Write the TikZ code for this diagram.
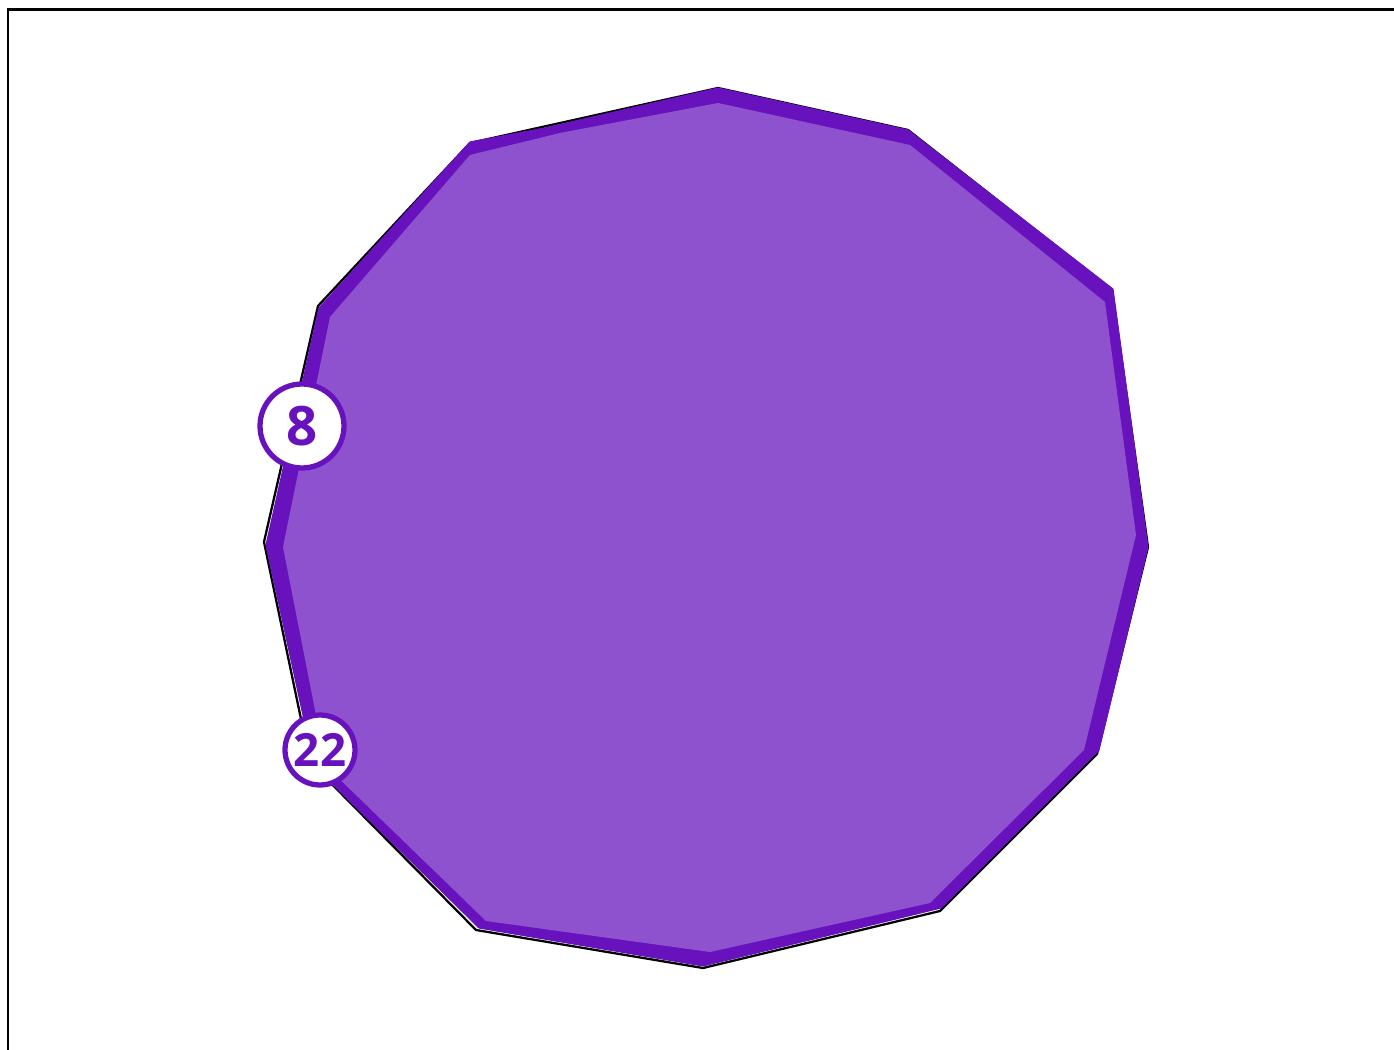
\documentclass[tikz,border=0pt]{standalone}
\usepackage{fontspec}
\setsansfont{Open Sans}
\usepackage{tikz}
\usetikzlibrary{positioning}

\definecolor{rimpurple}{RGB}{104,18,190}
\definecolor{facepurple}{RGB}{142,82,206}

\begin{document}
\begin{tikzpicture}[x=0.02cm, y=-0.02cm,
    frame/.style={draw=black, line width=1.7pt},
    shadowline/.style={draw=black, line width=1.3pt, line join=round},
    rim/.style={fill=rimpurple, draw=rimpurple, line width=0.6pt, line join=round},
    face/.style={fill=facepurple, draw=none},
    badge/.style={circle, draw=rimpurple, line width=3pt, fill=white, text=rimpurple,
                  font=\sffamily\bfseries, inner sep=0pt}]

  \useasboundingbox (0,0) rectangle (1394,1050);
  \draw[frame] (8,1052) -- (8,10) -- (1396,10);

  % outline underneath
  \draw[shadowline] (718,88) -- (908,130) -- (1112,290) -- (1148,547) -- (1097,754)
    -- (940,911) -- (703,968) -- (476,930) -- (310,762) -- (264,542) -- (318,306)
    -- (470,143) -- cycle;

  % thick rim
  \path[rim] (718,88) -- (908,130) -- (1113,289) -- (1148,547) -- (1099,750)
    -- (941,908) -- (703,966) -- (479,928) -- (314,766) -- (266,545) -- (319,308)
    -- (470,142) -- (545,128) -- cycle;

  % inner face
  \path[face] (718,103) -- (910,145) -- (1105,302) -- (1136,535) -- (1084,750)
    -- (930,903) -- (710,952) -- (486,921) -- (326,766) -- (283,547) -- (330,317)
    -- (470,155) -- (560,133) -- cycle;

  \node[badge, minimum size=1.68cm, font=\sffamily\bfseries\fontsize{31}{31}\selectfont] (v8) at (302,426) {8};
  \node[badge, minimum size=1.40cm, font=\sffamily\bfseries\fontsize{26}{26}\selectfont] (v22) at (320,750) {22};
\end{tikzpicture}
\end{document}
